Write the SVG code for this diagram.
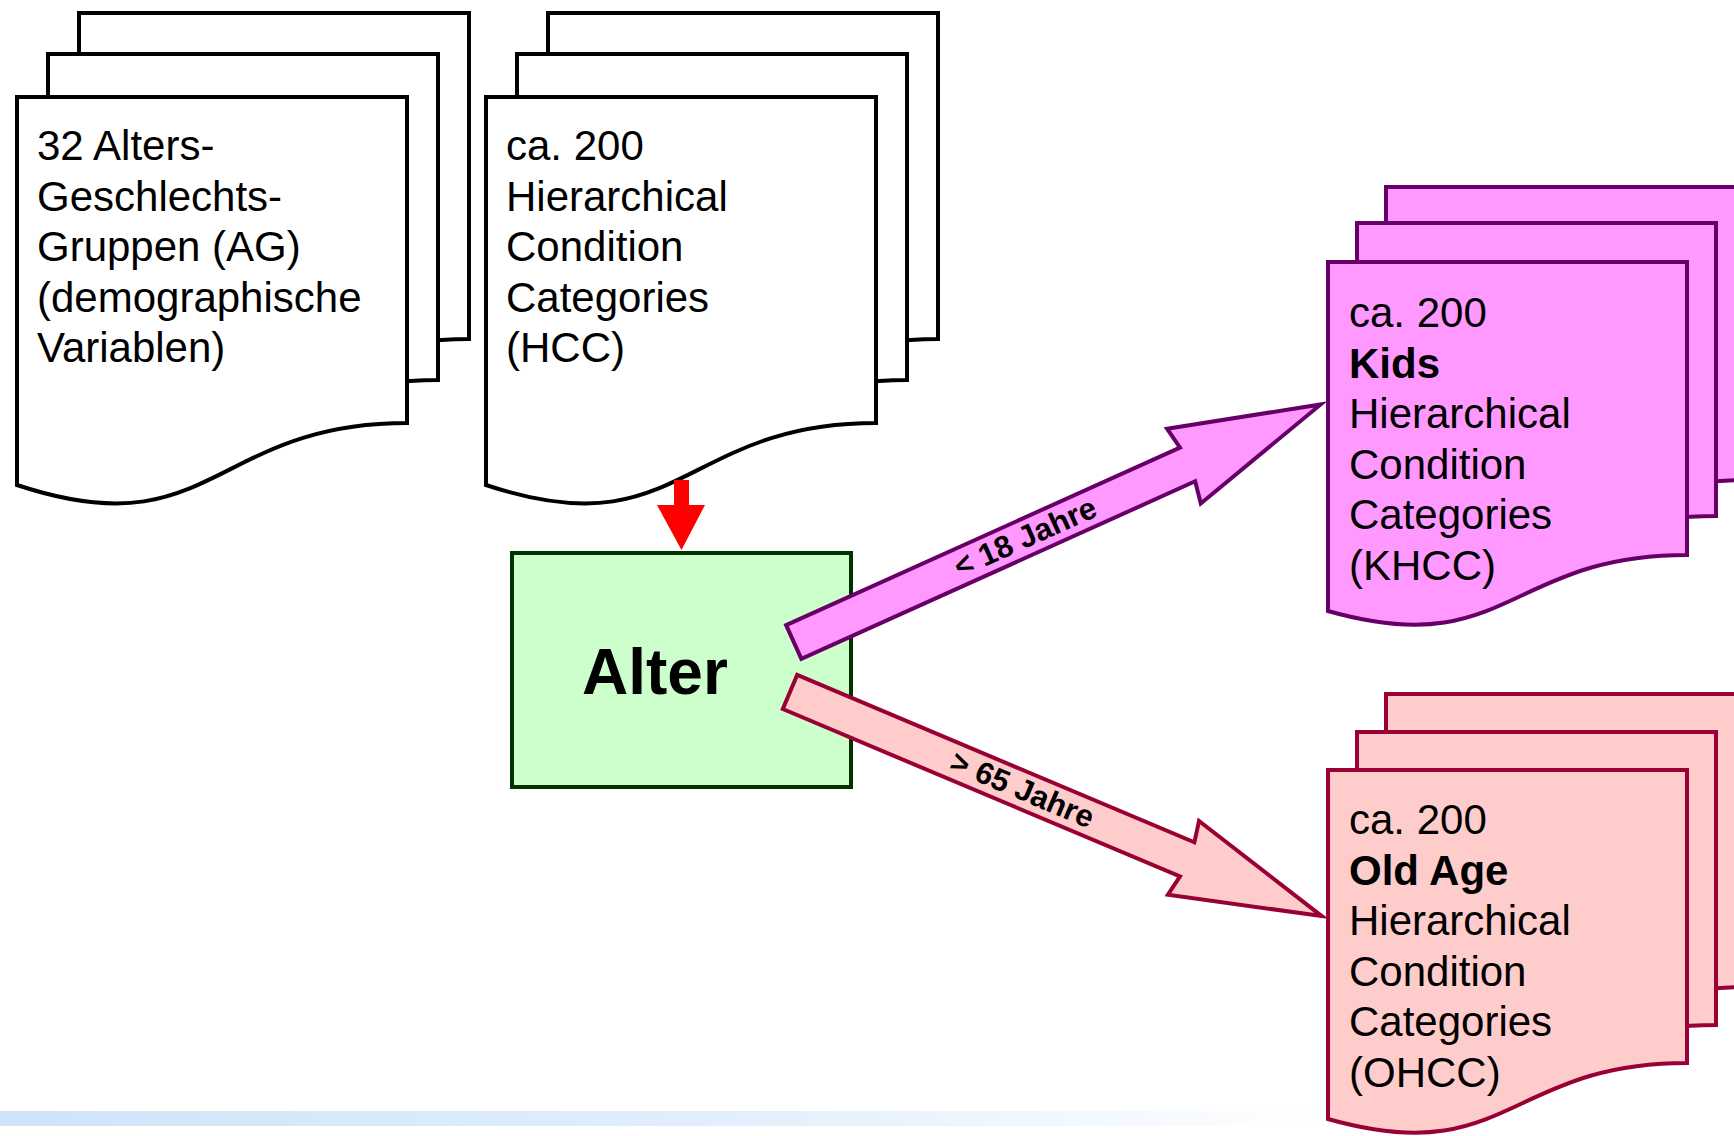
<svg xmlns="http://www.w3.org/2000/svg" width="1734" height="1136" viewBox="0 0 1734 1136">
<style>
  text { font-family: "Liberation Sans", Arial, sans-serif; fill: #000; }
  .doc { font-size: 42px; }
  .b { font-weight: bold; }
  .lbl { font-size: 31px; font-weight: bold; }
  .w { fill: #fff; stroke: #000; stroke-width: 4; }
  .k { fill: #FF99FF; stroke: #660066; stroke-width: 4; }
  .o { fill: #FFCCCC; stroke: #990033; stroke-width: 4; }
</style>
<defs>
  <path id="docA" d="M0,0 H390 V326 C195,326 195,453 0,388 Z"/>
  <path id="docB" d="M0,0 H359 V293 C179.5,293 179.5,400 0,349 Z"/>
  <linearGradient id="stripe" x1="0" y1="0" x2="1" y2="0">
    <stop offset="0" stop-color="#cde4f9"/>
    <stop offset="0.55" stop-color="#e2effc"/>
    <stop offset="1" stop-color="#ffffff"/>
  </linearGradient>
</defs>
<rect width="1734" height="1136" fill="#fff"/>
<rect x="0" y="1111" width="1330" height="15" fill="url(#stripe)"/>

<g id="node-ag">
  <use href="#docA" x="79" y="13" class="w"/>
  <use href="#docA" x="48" y="54" class="w"/>
  <use href="#docA" x="17" y="97" class="w"/>
  <text class="doc" x="37" y="160">32 Alters-<tspan x="37" dy="50.6">Geschlechts-</tspan><tspan x="37" dy="50.6">Gruppen (AG)</tspan><tspan x="37" dy="50.6">(demographische</tspan><tspan x="37" dy="50.6">Variablen)</tspan></text>
</g>

<g id="node-hcc">
  <use href="#docA" x="548" y="13" class="w"/>
  <use href="#docA" x="517" y="54" class="w"/>
  <use href="#docA" x="486" y="97" class="w"/>
  <text class="doc" x="506" y="160">ca. 200<tspan x="506" dy="50.6">Hierarchical</tspan><tspan x="506" dy="50.6">Condition</tspan><tspan x="506" dy="50.6">Categories</tspan><tspan x="506" dy="50.6">(HCC)</tspan></text>
</g>

<g id="node-alter">
  <rect x="512" y="553" width="339" height="234" fill="#CCFFCC" stroke="#003300" stroke-width="4"/>
  <text x="582" y="694" font-size="64" class="b">Alter</text>
</g>

<g id="node-khcc">
  <use href="#docB" x="1386" y="187" class="k"/>
  <use href="#docB" x="1357" y="223" class="k"/>
  <use href="#docB" x="1328" y="262" class="k"/>
  <text class="doc" x="1349" y="327">ca. 200<tspan x="1349" dy="50.6" class="b">Kids</tspan><tspan x="1349" dy="50.6">Hierarchical</tspan><tspan x="1349" dy="50.6">Condition</tspan><tspan x="1349" dy="50.6">Categories</tspan><tspan x="1349" dy="50.6">(KHCC)</tspan></text>
</g>

<g id="node-ohcc">
  <use href="#docB" x="1386" y="694" class="o"/>
  <use href="#docB" x="1357" y="732" class="o"/>
  <use href="#docB" x="1328" y="770" class="o"/>
  <text class="doc" x="1349" y="834">ca. 200<tspan x="1349" dy="50.6" class="b">Old Age</tspan><tspan x="1349" dy="50.6">Hierarchical</tspan><tspan x="1349" dy="50.6">Condition</tspan><tspan x="1349" dy="50.6">Categories</tspan><tspan x="1349" dy="50.6">(OHCC)</tspan></text>
</g>

<g id="connectors">
  <path id="arrow-hcc-alter" d="M674,480 H689 V505 H705 L681.5,550 L657,505 H674 Z" fill="#FF0000"/>
  <g id="arrow-kids" transform="translate(793.75,642) rotate(-24.27)">
    <path class="k" d="M0,-18.5 L432,-18.5 L428,-41 L578,0 L428,41 L432,18.5 L0,18.5 Z"/>
    <text class="lbl" x="254" y="10" text-anchor="middle">&lt; 18 Jahre</text>
  </g>
  <g id="arrow-old" transform="translate(790,692) rotate(22.85)">
    <path class="o" d="M0,-18.5 L431,-18.5 L427,-40 L577,0 L427,40 L431,18.5 L0,18.5 Z"/>
    <text class="lbl" x="252" y="10" text-anchor="middle">&gt; 65 Jahre</text>
  </g>
</g>
</svg>
